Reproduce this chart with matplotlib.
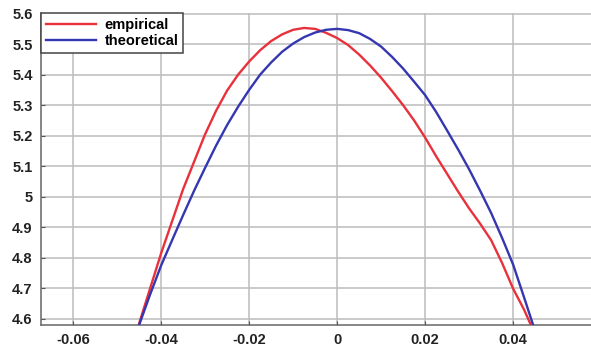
import matplotlib.pyplot as plt

# points (x, value), every 0.0025
emp_x = [-0.0455, -0.0450, -0.0425, -0.0400, -0.0375, -0.0350, -0.0325, -0.0300,
         -0.0275, -0.0250, -0.0225, -0.0200, -0.0175, -0.0150, -0.0125, -0.0100,
         -0.0075, -0.0050, -0.0025, 0.0, 0.0025, 0.0050, 0.0075, 0.0100,
         0.0125, 0.0150, 0.0175, 0.0200, 0.0225, 0.0250, 0.0275, 0.0300,
         0.0325, 0.0350, 0.0375, 0.0400, 0.0425, 0.0445]
emp_y = [4.560, 4.585, 4.700, 4.815, 4.920, 5.025, 5.115, 5.205,
         5.282, 5.348, 5.400, 5.443, 5.480, 5.510, 5.532, 5.547,
         5.553, 5.550, 5.537, 5.520, 5.497, 5.466, 5.430, 5.390,
         5.346, 5.300, 5.250, 5.194, 5.133, 5.075, 5.017, 4.962,
         4.912, 4.858, 4.783, 4.699, 4.630, 4.565]

theo_x = [-0.0455, -0.0450, -0.0425, -0.0400, -0.0375, -0.0350, -0.0325, -0.0300,
          -0.0275, -0.0250, -0.0225, -0.0200, -0.0175, -0.0150, -0.0125, -0.0100,
          -0.0075, -0.0050, -0.0025, 0.0, 0.0025, 0.0050, 0.0075, 0.0100,
          0.0125, 0.0150, 0.0175, 0.0200, 0.0225, 0.0250, 0.0275, 0.0300,
          0.0325, 0.0350, 0.0375, 0.0400, 0.0425, 0.0450]
theo_y = [4.560, 4.580, 4.680, 4.775, 4.858, 4.940, 5.020, 5.095,
          5.168, 5.235, 5.295, 5.350, 5.400, 5.440, 5.475, 5.502,
          5.523, 5.538, 5.547, 5.550, 5.546, 5.536, 5.517, 5.492,
          5.458, 5.420, 5.377, 5.333, 5.278, 5.217, 5.155, 5.090,
          5.020, 4.947, 4.865, 4.778, 4.670, 4.560]

x_ticks = [-0.06, -0.04, -0.02, 0, 0.02, 0.04]
x_labels = ["-0.06", "-0.04", "-0.02", "0", "0.02", "0.04"]
y_ticks = [4.6, 4.7, 4.8, 4.9, 5.0, 5.1, 5.2, 5.3, 5.4, 5.5, 5.6]
y_labels = ["4.6", "4.7", "4.8", "4.9", "5", "5.1", "5.2", "5.3", "5.4", "5.5", "5.6"]

plt.rcParams['font.family'] = ['Liberation Sans', 'DejaVu Sans']

fig = plt.figure(figsize=(5.91, 3.48), dpi=100)
ax = fig.add_axes([41 / 591, 23 / 348, 550 / 591, 312 / 348])

ax.plot(emp_x, emp_y, color="#e8313b", linewidth=1.7, label="empirical", zorder=3)
ax.plot(theo_x, theo_y, color="#3437b0", linewidth=1.7, label="theoretical", zorder=3)

ax.set_xlim(-0.0673, 0.0577)
ax.set_ylim(4.580, 5.602)
ax.set_xticks(x_ticks)
ax.set_xticklabels(x_labels)
ax.set_yticks(y_ticks)
ax.set_yticklabels(y_labels)
for lab in ax.get_xticklabels() + ax.get_yticklabels():
    lab.set_fontweight("bold")
    lab.set_fontsize(10.5)
    lab.set_color("#222222")

ax.tick_params(direction="in", length=3, color="#555555", pad=6)
ax.grid(True, color="#bcbcbc", linewidth=1.1)
ax.set_axisbelow(True)
for side in ["top", "right"]:
    ax.spines[side].set_visible(False)
for side in ["left", "bottom"]:
    ax.spines[side].set_color("#666666")
    ax.spines[side].set_linewidth(1.1)

leg = ax.legend(loc="upper left", bbox_to_anchor=(0.0, 1.0), borderaxespad=0,
                prop={"weight": "bold", "size": 10.5}, fancybox=False,
                framealpha=1, edgecolor="#444444", handlelength=3.4,
                labelspacing=0.15, borderpad=0.35, handletextpad=0.6)
leg.get_frame().set_linewidth(1.1)

fig.savefig("out.png", dpi=100)
